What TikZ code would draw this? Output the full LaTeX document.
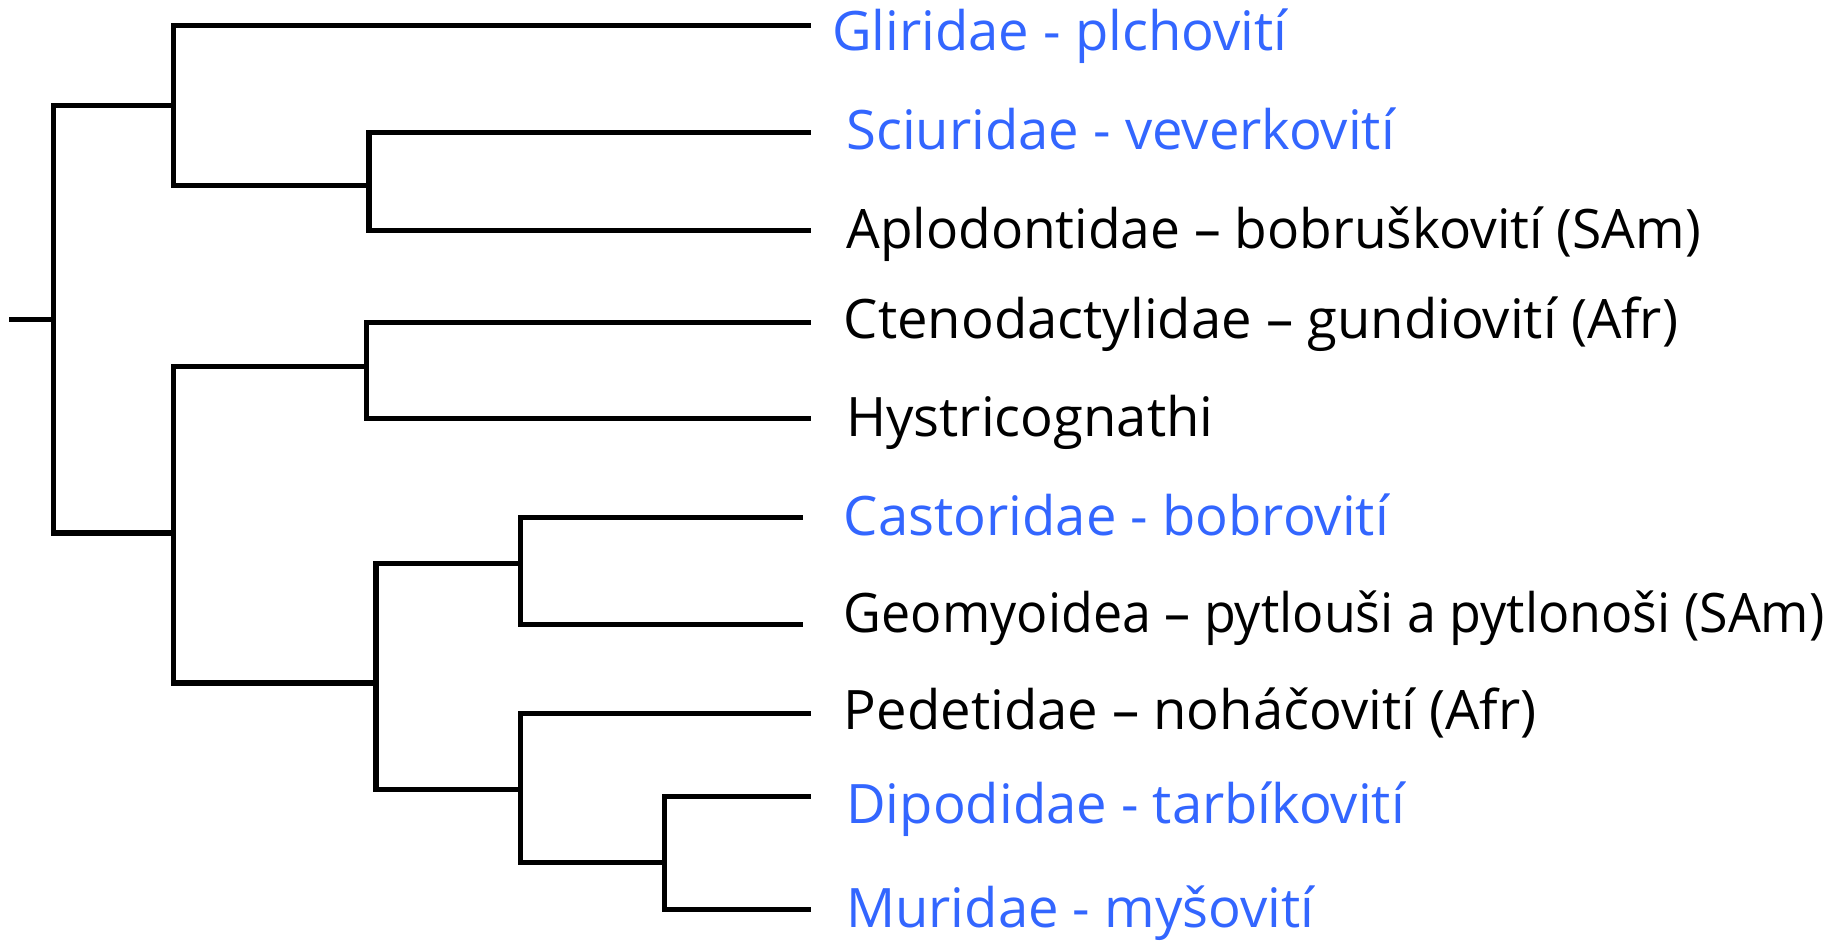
\documentclass[tikz,border=0pt]{standalone}
\usepackage{fontspec}
\setmainfont{Open Sans}
\usepackage{graphicx}
\definecolor{taxblue}{RGB}{51,102,255}
\tikzset{
  branch/.style={line width=2.6pt, line cap=rect, line join=miter},
  lbl/.style={anchor=base west, inner sep=0pt, font=\fontsize{27.2pt}{30pt}\selectfont},
  bluelbl/.style={lbl, text=taxblue},
  blacklbl/.style={lbl, text=black}
}
\begin{document}
\begin{tikzpicture}[x=0.5858pt, y=-0.5858pt]
\useasboundingbox (0,0) rectangle (1568,803);
% internal nodes
\coordinate (s) at (10,273);
\coordinate (r) at (46,273);
\coordinate (A) at (148,90);
\coordinate (B) at (315,158);
\coordinate (C) at (148,455);
\coordinate (D) at (313,313);
\coordinate (E) at (321,583);
\coordinate (F) at (444,481);
\coordinate (G) at (444,674);
\coordinate (H) at (567,736);
% leaf ends
\coordinate (gl) at (690,22);
\coordinate (sc) at (690,113);
\coordinate (ap) at (690,197);
\coordinate (ct) at (690,275);
\coordinate (hy) at (690,357);
\coordinate (ca) at (683,442);
\coordinate (ge) at (683,533);
\coordinate (pe) at (690,609);
\coordinate (di) at (690,680);
\coordinate (mu) at (690,776);
% branches
\draw[branch] (s) -- (r);
\draw[branch] (r) |- (A);
\draw[branch] (r) |- (C);
\draw[branch] (A) |- (gl);
\draw[branch] (A) |- (B);
\draw[branch] (B) |- (sc);
\draw[branch] (B) |- (ap);
\draw[branch] (C) |- (D);
\draw[branch] (C) |- (E);
\draw[branch] (D) |- (ct);
\draw[branch] (D) |- (hy);
\draw[branch] (E) |- (F);
\draw[branch] (E) |- (G);
\draw[branch] (F) |- (ca);
\draw[branch] (F) |- (ge);
\draw[branch] (G) |- (pe);
\draw[branch] (G) |- (H);
\draw[branch] (H) |- (di);
\draw[branch] (H) |- (mu);
% labels
\node[bluelbl] (tgl) at (710,43.5) {Gliridae - plchovití};
\node[bluelbl] (tsc) at (722,127.5) {Sciuridae - veverkovití};
\node[blacklbl] (tap) at (722,212) {\scalebox{0.98}[1]{Aplodontidae – bobruškovití (SAm)}};
\node[blacklbl] (tct) at (720,289) {Ctenodactylidae – gundiovití (Afr)};
\node[blacklbl] (thy) at (722,373) {Hystricognathi};
\node[bluelbl] (tca) at (720,457) {Castoridae - bobrovití};
\node[blacklbl] (tge) at (720,540) {\scalebox{0.955}[1]{Geomyoidea – pytlouši a pytlonoši (SAm)}};
\node[blacklbl] (tpe) at (720,623) {Pedetidae – noháčovití (Afr)};
\node[bluelbl] (tdi) at (722,702.5) {Dipodidae - tarbíkovití};
\node[bluelbl] (tmu) at (722,792) {Muridae - myšovití};
\end{tikzpicture}
\end{document}
